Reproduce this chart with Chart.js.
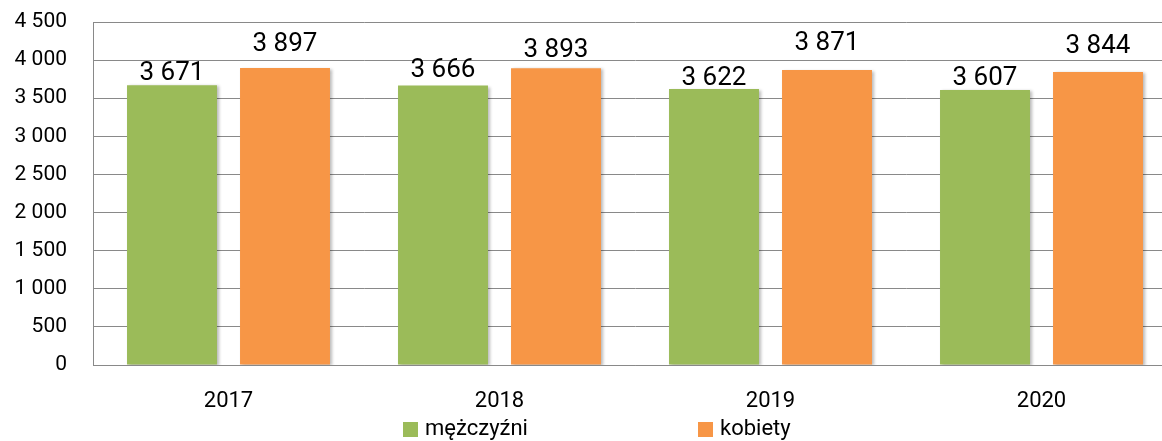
<!DOCTYPE html>
<html>
<head>
<meta charset="utf-8">
<script src="https://cdn.jsdelivr.net/npm/chart.js@4"></script>
<style>
html,body{margin:0;padding:0;background:#fff;overflow:hidden;width:1162px;height:441px;}
canvas{display:block;}
</style>
</head>
<body>
<canvas id="c" width="1177" height="441"></canvas>
<script>
const categories = ["2017", "2018", "2019", "2020"];
const menValues = [3671, 3666, 3622, 3607];
const womenValues = [3897, 3893, 3871, 3844];
const seriesNames = ["mężczyźni", "kobiety"];
const yTicks = [0, 500, 1000, 1500, 2000, 2500, 3000, 3500, 4000, 4500];

// label baseline offsets above bar tops (px), per series
const labelLift = [[5, 9, 4, 5], [17, 11, 19.5, 19.5]];

function fmt(v) {
  return String(v).replace(/\B(?=(\d{3})+(?!\d))/g, " ");
}

const FONT = "Roboto";
const GRID = "#898989";

const shadowPlugin = {
  id: "shadow",
  beforeDatasetsDraw(chart) {
    const ctx = chart.ctx;
    ctx.save();
    ctx.shadowColor = "rgba(0,0,0,0.28)";
    ctx.shadowBlur = 3;
    ctx.shadowOffsetX = 2;
    ctx.shadowOffsetY = 1;
  },
  afterDatasetsDraw(chart) {
    chart.ctx.restore();
  }
};

const labelPlugin = {
  id: "barLabels",
  afterDatasetsDraw(chart) {
    const ctx = chart.ctx;
    ctx.save();
    ctx.font = "26px " + FONT;
    ctx.fillStyle = "#000";
    ctx.textAlign = "center";
    ctx.textBaseline = "alphabetic";
    chart.data.datasets.forEach((ds, di) => {
      const meta = chart.getDatasetMeta(di);
      meta.data.forEach((bar, i) => {
        ctx.fillText(fmt(ds.data[i]), bar.x, bar.y - labelLift[di][i]);
      });
    });
    ctx.restore();
  }
};

const legendPlugin = {
  id: "customLegend",
  afterDraw(chart) {
    const ctx = chart.ctx;
    const items = [403, 698];
    ctx.save();
    ctx.font = "22px " + FONT;
    ctx.textBaseline = "middle";
    ctx.textAlign = "left";
    chart.data.datasets.forEach((ds, di) => {
      const x = items[di];
      ctx.fillStyle = ds.backgroundColor;
      ctx.fillRect(x, 422, 15, 15);
      ctx.fillStyle = "#000";
      ctx.fillText(ds.label, x + 22, 429);
    });
    ctx.restore();
  }
};

new Chart(document.getElementById("c"), {
  type: "bar",
  data: {
    labels: categories,
    datasets: [
      { label: seriesNames[0], data: menValues, backgroundColor: "#9BBB59", borderWidth: 0 },
      { label: seriesNames[1], data: womenValues, backgroundColor: "#F79646", borderWidth: 0 }
    ]
  },
  options: {
    responsive: false,
    animation: false,
    devicePixelRatio: 1,
    categoryPercentage: 0.834,
    barPercentage: 0.796,
    layout: { padding: { top: 22, right: 0, bottom: 0, left: 0 } },
    plugins: {
      legend: { display: false },
      tooltip: { enabled: false }
    },
    scales: {
      x: {
        grid: { display: false, drawTicks: false },
        border: { color: GRID, width: 1 },
        ticks: { color: "#000", font: { family: FONT, size: 22 }, padding: 23 },
        afterFit(s) { s.height = 76; s.paddingLeft = 0; s.paddingRight = 0; }
      },
      y: {
        min: 0,
        max: 4500,
        afterBuildTicks(s) { s.ticks = yTicks.map(v => ({ value: v })); },
        grid: { color: GRID, lineWidth: 1, drawTicks: false },
        border: { color: GRID, width: 1 },
        ticks: {
          color: "#000",
          font: { family: FONT, size: 21 },
          padding: 26,
          callback: (v) => fmt(v)
        },
        afterFit(s) { s.width = 93; s.paddingTop = 0; s.paddingBottom = 0; }
      }
    }
  },
  plugins: [shadowPlugin, labelPlugin, legendPlugin]
});
</script>
</body>
</html>
